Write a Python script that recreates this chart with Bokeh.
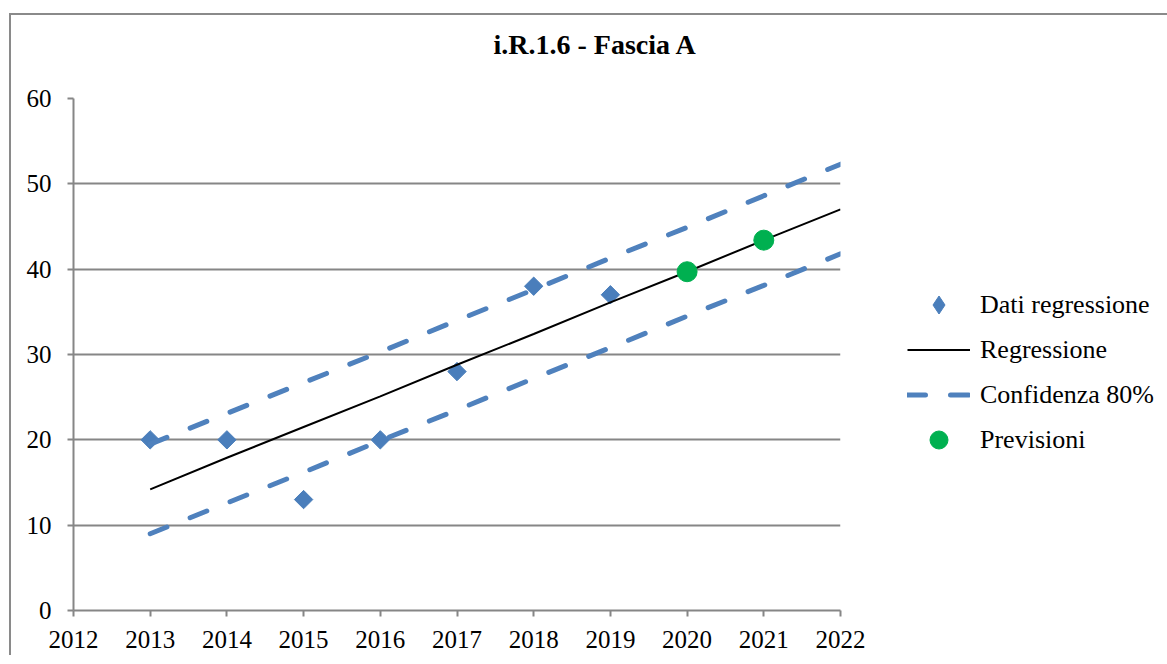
import math
from bokeh.plotting import figure
from bokeh.models import Range1d, FixedTicker, Legend, LegendItem, Title
from bokeh.embed import file_html
from bokeh.resources import INLINE

# ---- data ----
years_data = [2013, 2014, 2015, 2016, 2017, 2018, 2019]
values_data = [20, 20, 13, 20, 28, 38, 37]

years_line = [2013, 2014, 2015, 2016, 2017, 2018, 2019, 2020, 2021, 2022]
regression = [14.2, 17.9, 21.5, 25.1, 28.8, 32.4, 36.1, 39.7, 43.4, 47.0]
conf_upper = [19.5, 23.1, 26.7, 30.3, 34.0, 37.6, 41.3, 44.9, 48.6, 52.3]
conf_lower = [9.0, 12.6, 16.2, 19.9, 23.5, 27.2, 30.8, 34.5, 38.1, 41.8]

years_forecast = [2020, 2021]
forecast = [39.7, 43.4]

x_ticks = [2012, 2013, 2014, 2015, 2016, 2017, 2018, 2019, 2020, 2021, 2022]
y_ticks = [0, 10, 20, 30, 40, 50, 60]

title_text = "i.R.1.6 - Fascia A"
legend_labels = ["Dati regressione", "Regressione", "Confidenza 80%", "Previsioni"]

FONT = "Liberation Serif"
GRAY = "#868686"
BLUE_MARK = "#4A7EBB"
BLUE_LINE = "#4F81BD"
GREEN = "#00B050"

p = figure(frame_width=767, frame_height=512, output_backend="svg", toolbar_location=None,
           title=None,
           x_range=Range1d(2012, 2022), y_range=Range1d(0, 60),
           min_border_left=62, min_border_top=83, min_border_right=0,
           min_border_bottom=45)
p.margin = (13, 0, 0, 9)
p.styles = {"border-left": "2px solid #8a8a8a", "border-top": "2px solid #8a8a8a"}
p.outline_line_color = None
p.background_fill_color = "white"
p.border_fill_color = "white"

# spacing between the title and the plot area
p.add_layout(Title(text=" ", text_font_size="1px", standoff=36), "above")
p.add_layout(Title(text=title_text, text_font=FONT, text_font_size="28px",
                   text_font_style="bold", text_color="black",
                   align="left", offset=420, standoff=0), "above")

p.xgrid.visible = False
p.ygrid.grid_line_color = GRAY
p.ygrid.grid_line_width = 2
p.ygrid.ticker = FixedTicker(ticks=y_ticks)

for ax in (p.xaxis[0], p.yaxis[0]):
    ax.axis_line_color = GRAY
    ax.axis_line_width = 2
    ax.major_tick_line_color = GRAY
    ax.major_tick_line_width = 2
    ax.major_tick_out = 6
    ax.major_tick_in = 0
    ax.minor_tick_line_color = None
    ax.major_label_text_font = FONT
    ax.major_label_text_font_size = "25px"
    ax.major_label_text_color = "black"
p.xaxis[0].ticker = FixedTicker(ticks=x_ticks)
p.yaxis[0].ticker = FixedTicker(ticks=y_ticks)
p.xaxis[0].major_label_standoff = 14
p.yaxis[0].major_label_standoff = 16

r_data = p.scatter(years_data, values_data, marker="square", size=13, angle=math.pi / 4,
                   fill_color=BLUE_MARK, line_color=BLUE_MARK)
# legend key for the data series (drawn only in the legend)
r_data_key = p.scatter(years_data, values_data, marker="diamond", size=13,
                       fill_color=BLUE_MARK, line_color=BLUE_MARK, visible=False)
r_reg = p.line(years_line, regression, line_color="black", line_width=2)
r_up = p.line(years_line, conf_upper, line_color=BLUE_LINE, line_width=5,
              line_dash="18 25", line_cap="round")
r_lo = p.line(years_line, conf_lower, line_color=BLUE_LINE, line_width=5,
              line_dash="18 25", line_cap="round")
r_fc = p.scatter(years_forecast, forecast, marker="circle", size=20,
                 fill_color=GREEN, line_color=GREEN)

legend = Legend(items=[
    LegendItem(label=legend_labels[0], renderers=[r_data_key]),
    LegendItem(label=legend_labels[1], renderers=[r_reg]),
    LegendItem(label=legend_labels[2], renderers=[r_up]),
    LegendItem(label=legend_labels[3], renderers=[r_fc]),
], location=(67, 148))
legend.border_line_color = None
legend.background_fill_alpha = 0
legend.inactive_fill_alpha = 0
legend.padding = 0
legend.margin = 0
legend.spacing = 0
legend.glyph_width = 63
legend.glyph_height = 45
legend.label_height = 45
legend.label_standoff = 10
legend.label_text_font = FONT
legend.label_text_font_size = "26px"
legend.label_text_color = "black"
legend.label_text_baseline = "middle"
p.add_layout(legend, "right")

open("out.html", "w").write(file_html(p, INLINE))
